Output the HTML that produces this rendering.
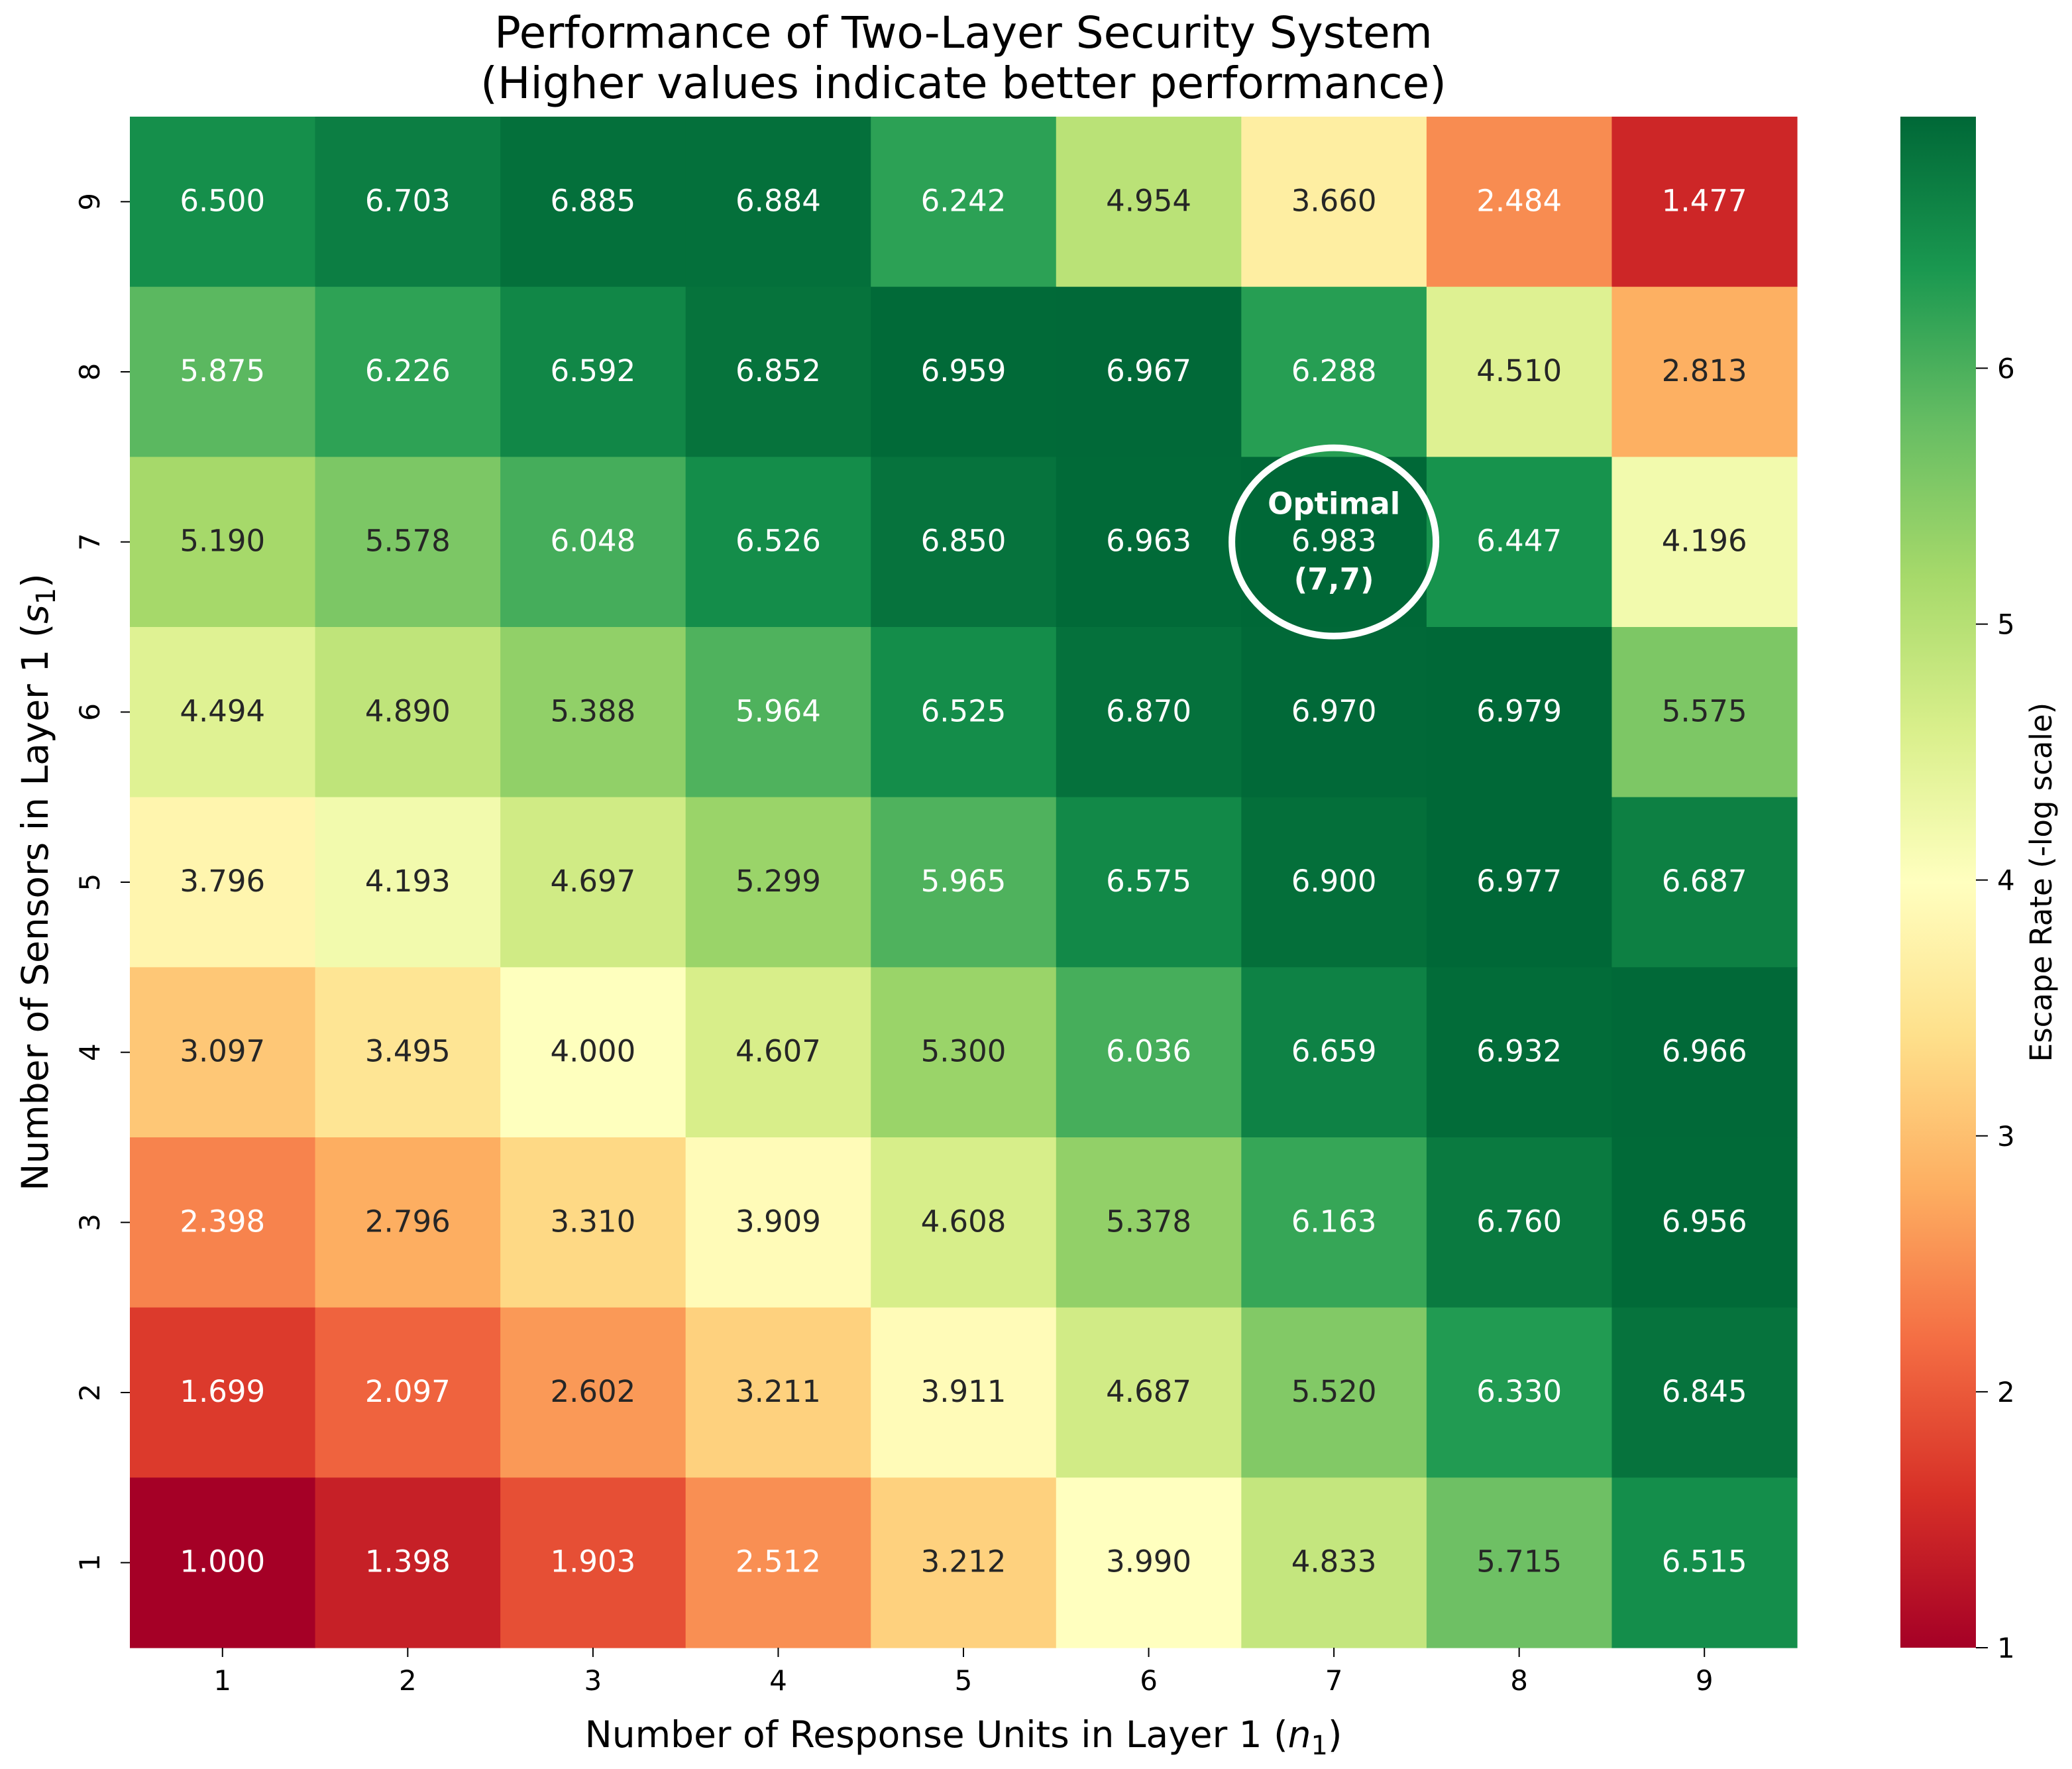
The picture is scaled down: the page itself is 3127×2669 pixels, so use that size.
<!DOCTYPE html>
<html><head><meta charset="utf-8"><style>
html,body{margin:0;padding:0;background:#fff;}
svg{display:block;font-family:"DejaVu Sans","Liberation Sans",sans-serif;}
</style></head><body>
<svg id="chart" width="3127" height="2669" viewBox="0 0 3127 2669" xmlns="http://www.w3.org/2000/svg">
<text x="1454" y="72" font-size="66" text-anchor="middle" fill="#000">Performance of Two-Layer Security System</text>
<text x="1454" y="148" font-size="66" text-anchor="middle" fill="#000">(Higher values indicate better performance)</text>
<g id="cells"></g>
<g id="xticks"></g>
<g id="yticks"></g>
<text x="1454" y="2636" font-size="55" text-anchor="middle">Number of Response Units in Layer 1 (<tspan font-style="italic">n</tspan><tspan font-size="40" dy="11">1</tspan><tspan dy="-11">)</tspan></text>
<text transform="translate(72,1331) rotate(-90)" font-size="55" text-anchor="middle">Number of Sensors in Layer 1 (<tspan font-style="italic">s</tspan><tspan font-size="40" dy="11">1</tspan><tspan dy="-11">)</tspan></text>
<defs><linearGradient id="cbg" x1="0" y1="1" x2="0" y2="0"></linearGradient></defs>
<rect x="2868" y="176" width="114" height="2310" fill="url(#cbg)"/>
<g id="cbticks"></g>
<text transform="translate(3096,1331) rotate(-90)" font-size="45" text-anchor="middle">Escape Rate (-log scale)</text>
<g id="optimal"></g>
</svg>
<script>
const nLabels = [1,2,3,4,5,6,7,8,9];
const sLabels = [9,8,7,6,5,4,3,2,1];
const row9 = [6.500,6.703,6.885,6.884,6.242,4.954,3.660,2.484,1.477];
const row8 = [5.875,6.226,6.592,6.852,6.959,6.967,6.288,4.510,2.813];
const row7 = [5.190,5.578,6.048,6.526,6.850,6.963,6.983,6.447,4.196];
const row6 = [4.494,4.890,5.388,5.964,6.525,6.870,6.970,6.979,5.575];
const row5 = [3.796,4.193,4.697,5.299,5.965,6.575,6.900,6.977,6.687];
const row4 = [3.097,3.495,4.000,4.607,5.300,6.036,6.659,6.932,6.966];
const row3 = [2.398,2.796,3.310,3.909,4.608,5.378,6.163,6.760,6.956];
const row2 = [1.699,2.097,2.602,3.211,3.911,4.687,5.520,6.330,6.845];
const row1 = [1.000,1.398,1.903,2.512,3.212,3.990,4.833,5.715,6.515];
const cbTicks = [1,2,3,4,5,6];
const optimalN = 7, optimalS = 7;

const rows=[row9,row8,row7,row6,row5,row4,row3,row2,row1];
const vmin=1.0, vmax=6.983;
const X0=196,X1=2712,Y0=176,Y1=2486;
const cw=(X1-X0)/nLabels.length, ch=(Y1-Y0)/sLabels.length;
const NS="http://www.w3.org/2000/svg";
const stops=["#a50026","#d73027","#f46d43","#fdae61","#fee08b","#ffffbf","#d9ef8b","#a6d96a","#66bd63","#1a9850","#006837"];
function hex(h){return [1,3,5].map(i=>parseInt(h.substr(i,2),16));}
function cmap(v){let t=Math.max(0,Math.min(1,(v-vmin)/(vmax-vmin)))*(stops.length-1);let i=Math.min(Math.floor(t),stops.length-2),f=t-i;const a=hex(stops[i]),b=hex(stops[i+1]);return a.map((c,k)=>Math.round(c+(b[k]-c)*f));}
function lum(c){const l=c.map(x=>{x/=255;return x<=0.03928?x/12.92:Math.pow((x+0.055)/1.055,2.4);});return 0.2126*l[0]+0.7152*l[1]+0.0722*l[2];}
function el(tag,attrs,parent){const e=document.createElementNS(NS,tag);for(const k in attrs)e.setAttribute(k,attrs[k]);parent.appendChild(e);return e;}
const xs=i=>X0+i*cw, ys=j=>Y0+j*ch;
const cells=document.getElementById('cells');
rows.forEach((r,j)=>r.forEach((v,i)=>{
  const c=cmap(v);
  const rect=el('rect',{x:xs(i),y:ys(j),width:cw+0.6,height:ch+0.6,fill:`rgb(${c})`},cells);
  
  
  if(nLabels[i]===optimalN&&sLabels[j]===optimalS) return;
  const t=el('text',{x:xs(i)+cw/2,y:ys(j)+ch/2+14,'font-size':45,'text-anchor':'middle',fill:lum(c)>0.408?'#262626':'#fff'},cells);
  t.textContent=v.toFixed(3);
  
  
}));
const xt=document.getElementById('xticks');
nLabels.forEach((n,i)=>{
  const x=xs(i)+cw/2;
  const l=el('line',{x1:x,x2:x,y1:Y1,y2:Y1+14,stroke:'#000','stroke-width':2},xt);
  
  
  const t=el('text',{x:x,y:Y1+64,'font-size':42,'text-anchor':'middle'},xt);
  t.textContent=n;
  
  
});
const yt=document.getElementById('yticks');
sLabels.forEach((s,j)=>{
  const y=ys(j)+ch/2;
  const l=el('line',{x1:X0-14,x2:X0,y1:y,y2:y,stroke:'#000','stroke-width':2},yt);
  
  
  const t=el('text',{transform:`translate(150,${y}) rotate(-90)`,'font-size':42,'text-anchor':'middle'},yt);
  t.textContent=s;
  
  
});
const g=document.getElementById('cbg');
stops.forEach((s,k)=>{el('stop',{offset:k/(stops.length-1),'stop-color':s},g);});
const cb=document.getElementById('cbticks');
cbTicks.forEach(v=>{
  const y=Y1-(v-vmin)/(vmax-vmin)*(Y1-Y0);
  const l=el('line',{x1:2982,x2:3000,y1:y,y2:y,stroke:'#000','stroke-width':2},cb);
  
  
  const t=el('text',{x:3014,y:y+15,'font-size':42},cb);
  t.textContent=v;
  
  
});
const og=document.getElementById('optimal');
const oi=nLabels.indexOf(optimalN), oj=sLabels.indexOf(optimalS);
const cx=xs(oi)+cw/2, cy=ys(oj)+ch/2;
const ov=rows[oj][oi];
const circ=el('ellipse',{cx:cx,cy:cy,rx:154,ry:142,fill:'none',stroke:'#fff','stroke-width':10},og);


const t1=el('text',{x:cx,y:cy-42,'font-size':45,'font-weight':'bold','text-anchor':'middle',fill:'#fff'},og);
t1.textContent='Optimal';


const t2=el('text',{x:cx,y:cy+14,'font-size':45,'text-anchor':'middle',fill:'#fff'},og);
t2.textContent=ov.toFixed(3);


const t3=el('text',{x:cx,y:cy+72,'font-size':45,'font-weight':'bold','text-anchor':'middle',fill:'#fff'},og);
t3.textContent=`(${optimalN},${optimalS})`;


</script>
</body></html>
